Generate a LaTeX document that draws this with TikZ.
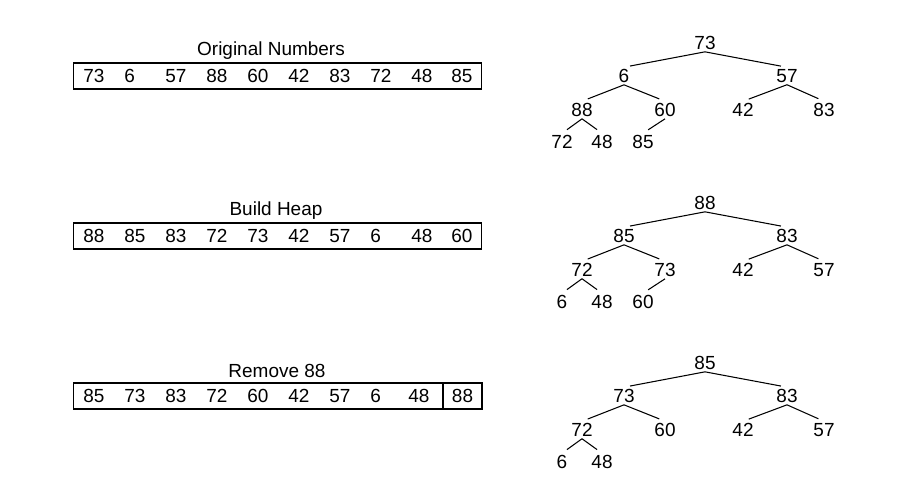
\documentclass[tikz,border=0pt]{standalone}
\usepackage{fontspec}
\setmainfont{Liberation Sans}

\begin{document}
\begin{tikzpicture}[x=0.02cm, y=-0.02cm,
  title/.style={font=\fontsize{10.8}{13}\selectfont, inner sep=0pt},
  arraybox/.style={draw, rectangle, line width=0.6pt, minimum height=0.52cm, inner sep=0pt},
  cell/.style={anchor=west, font=\fontsize{10.8}{13}\selectfont, inner sep=0pt},
  treenode/.style={font=\fontsize{10.8}{13}\selectfont, inner sep=1pt},
  branch/.style={line width=0.6pt, shorten >=3.5pt}
]
\useasboundingbox (0,0) rectangle (903,478);

% --- row 1: original numbers
\node[title] (ttl_orig) at (271, 51) {Original Numbers};
\node[arraybox, minimum width=8.18cm] (arr_orig) at (277.5, 76) {};
\node[cell] (o1) at (83, 76) {73};
\node[cell] (o2) at (124, 76) {6};
\node[cell] (o3) at (165, 76) {57};
\node[cell] (o4) at (206, 76) {88};
\node[cell] (o5) at (247, 76) {60};
\node[cell] (o6) at (288, 76) {42};
\node[cell] (o7) at (329, 76) {83};
\node[cell] (o8) at (370, 76) {72};
\node[cell] (o9) at (411, 76) {48};
\node[cell] (o10) at (451, 76) {85};

\node[treenode] (to1) at (705, 43) {73};
\node[treenode] (to2) at (624, 76) {6};
\node[treenode] (to3) at (787, 76) {57};
\node[treenode] (to4) at (582, 110) {88};
\node[treenode] (to5) at (665, 110) {60};
\node[treenode] (to6) at (743, 110) {42};
\node[treenode] (to7) at (824, 110) {83};
\node[treenode] (to8) at (562, 142) {72};
\node[treenode] (to9) at (602, 142) {48};
\node[treenode] (to10) at (643, 142) {85};

\draw[branch] (to1.south) -- (to2.north);
\draw[branch] (to1.south) -- (to3.north);
\draw[branch] (to2.south) -- (to4.north);
\draw[branch] (to2.south) -- (to5.north);
\draw[branch] (to3.south) -- (to6.north);
\draw[branch] (to3.south) -- (to7.north);
\draw[branch] (to4.south) -- (to8.north);
\draw[branch] (to4.south) -- (to9.north);
\draw[branch] (to5.south) -- (to10.north);

% --- row 2: build heap
\node[title] (ttl_build) at (276, 211) {Build Heap};
\node[arraybox, minimum width=8.18cm] (arr_build) at (277.5, 236) {};
\node[cell] (b1) at (83, 236) {88};
\node[cell] (b2) at (124, 236) {85};
\node[cell] (b3) at (165, 236) {83};
\node[cell] (b4) at (206, 236) {72};
\node[cell] (b5) at (247, 236) {73};
\node[cell] (b6) at (288, 236) {42};
\node[cell] (b7) at (329, 236) {57};
\node[cell] (b8) at (370, 236) {6};
\node[cell] (b9) at (411, 236) {48};
\node[cell] (b10) at (451, 236) {60};

\node[treenode] (tb1) at (705, 203) {88};
\node[treenode] (tb2) at (624, 236) {85};
\node[treenode] (tb3) at (787, 236) {83};
\node[treenode] (tb4) at (582, 270) {72};
\node[treenode] (tb5) at (665, 270) {73};
\node[treenode] (tb6) at (743, 270) {42};
\node[treenode] (tb7) at (824, 270) {57};
\node[treenode] (tb8) at (562, 302) {6};
\node[treenode] (tb9) at (602, 302) {48};
\node[treenode] (tb10) at (643, 302) {60};

\draw[branch] (tb1.south) -- (tb2.north);
\draw[branch] (tb1.south) -- (tb3.north);
\draw[branch] (tb2.south) -- (tb4.north);
\draw[branch] (tb2.south) -- (tb5.north);
\draw[branch] (tb3.south) -- (tb6.north);
\draw[branch] (tb3.south) -- (tb7.north);
\draw[branch] (tb4.south) -- (tb8.north);
\draw[branch] (tb4.south) -- (tb9.north);
\draw[branch] (tb5.south) -- (tb10.north);

% --- row 3: remove 88
\node[title] (ttl_remove) at (277, 371) {Remove 88};
\node[arraybox, minimum width=7.4cm] (arr_remove) at (258, 396) {};
\node[arraybox, minimum width=0.78cm, font=\fontsize{10.8}{13}\selectfont] (r10) at (462.5, 396) {88};
\node[cell] (r1) at (83, 396) {85};
\node[cell] (r2) at (124, 396) {73};
\node[cell] (r3) at (165, 396) {83};
\node[cell] (r4) at (206, 396) {72};
\node[cell] (r5) at (247, 396) {60};
\node[cell] (r6) at (288, 396) {42};
\node[cell] (r7) at (329, 396) {57};
\node[cell] (r8) at (370, 396) {6};
\node[cell] (r9) at (408, 396) {48};

\node[treenode] (tr1) at (705, 363) {85};
\node[treenode] (tr2) at (624, 396) {73};
\node[treenode] (tr3) at (787, 396) {83};
\node[treenode] (tr4) at (582, 430) {72};
\node[treenode] (tr5) at (665, 430) {60};
\node[treenode] (tr6) at (743, 430) {42};
\node[treenode] (tr7) at (824, 430) {57};
\node[treenode] (tr8) at (562, 462) {6};
\node[treenode] (tr9) at (602, 462) {48};

\draw[branch] (tr1.south) -- (tr2.north);
\draw[branch] (tr1.south) -- (tr3.north);
\draw[branch] (tr2.south) -- (tr4.north);
\draw[branch] (tr2.south) -- (tr5.north);
\draw[branch] (tr3.south) -- (tr6.north);
\draw[branch] (tr3.south) -- (tr7.north);
\draw[branch] (tr4.south) -- (tr8.north);
\draw[branch] (tr4.south) -- (tr9.north);

\end{tikzpicture}
\end{document}
